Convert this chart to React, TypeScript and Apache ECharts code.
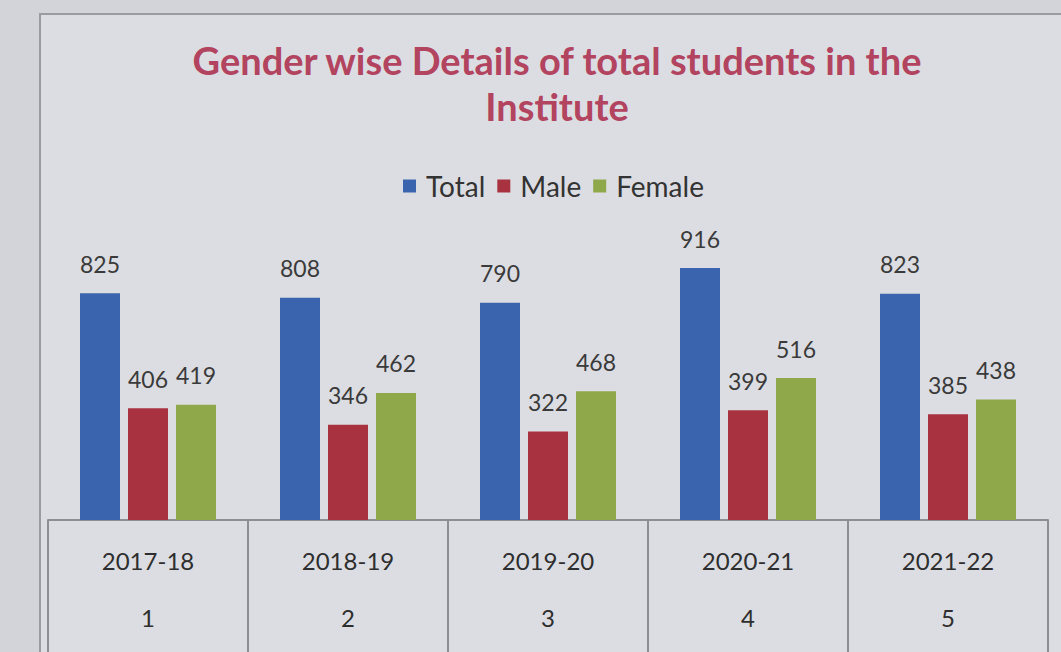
import React, { useEffect, useRef } from "react";
import * as echarts from "echarts";

const years = ["2017-18", "2018-19", "2019-20", "2020-21", "2021-22"];
const serialNos = ["1", "2", "3", "4", "5"];
const totalValues = [825, 808, 790, 916, 823];
const maleValues = [406, 346, 322, 399, 385];
const femaleValues = [419, 462, 468, 516, 438];
const seriesNames = ["Total", "Male", "Female"];
const colors = ["#3b64ae", "#a8323f", "#8ea84a"];

export default function App() {
  const ref = useRef<HTMLDivElement>(null);
  useEffect(() => {
    if (!ref.current) return;
    const chart = echarts.init(ref.current, null, { renderer: "svg" });
    const font = "Lato, 'Open Sans', sans-serif";
    const label = {
      show: true,
      position: "top",
      distance: 18,
      color: "#3a3a3a",
      fontSize: 23,
      fontFamily: font,
    };
    chart.setOption({
      animation: false,
      backgroundColor: "#d3d4d9",
      title: {
        text: "Gender wise Details of total students in the\nInstitute",
        left: 552,
        textAlign: "center",
        top: 32,
        textStyle: {
          color: "#b2445f",
          fontSize: 38,
          fontWeight: "bold",
          fontFamily: font,
          lineHeight: 46,
        },
      },
      legend: {
        top: 167,
        left: 398,
        itemWidth: 13,
        itemHeight: 13,
        itemGap: 12,
        icon: "rect",
        textStyle: { color: "#333", fontSize: 28, fontFamily: font, padding: [0, 0, 0, 5] },
        data: seriesNames,
      },
      graphic: [
        {
          type: "rect",
          shape: { x: 40, y: 14, width: 1040, height: 660 },
          style: { fill: "#dcdde2", stroke: "#9a9ba2", lineWidth: 2 },
          z: -10,
        },
      ],
      grid: { left: 48, right: 13, top: 245, bottom: 132 },
      xAxis: {
        type: "category",
        data: years,
        axisLine: { show: true, lineStyle: { color: "#8d8e95", width: 2 } },
        axisTick: { show: true, length: 140, lineStyle: { color: "#8d8e95", width: 2 } },
        axisLabel: {
          margin: 12,
          formatter: (v: string, i: number) => `{a|${v}}\n{b|${serialNos[i]}}`,
          rich: {
            a: { fontSize: 24, color: "#2e2e2e", fontFamily: font, lineHeight: 57 },
            b: { fontSize: 24, color: "#2e2e2e", fontFamily: font, lineHeight: 57 },
          },
        },
      },
      yAxis: { type: "value", min: 0, max: 1000, show: false, splitLine: { show: false } },
      series: [
        { name: seriesNames[0], type: "bar", data: totalValues, barWidth: 40, barGap: "20%", itemStyle: { color: colors[0] }, label },
        { name: seriesNames[1], type: "bar", data: maleValues, barWidth: 40, barGap: "20%", itemStyle: { color: colors[1] }, label },
        { name: seriesNames[2], type: "bar", data: femaleValues, barWidth: 40, barGap: "20%", itemStyle: { color: colors[2] }, label },
      ],
    });
    return () => chart.dispose();
  }, []);
  return <div ref={ref} style={{ width: 1061, height: 652, position: "absolute", left: 0, top: 0 }} />;
}
